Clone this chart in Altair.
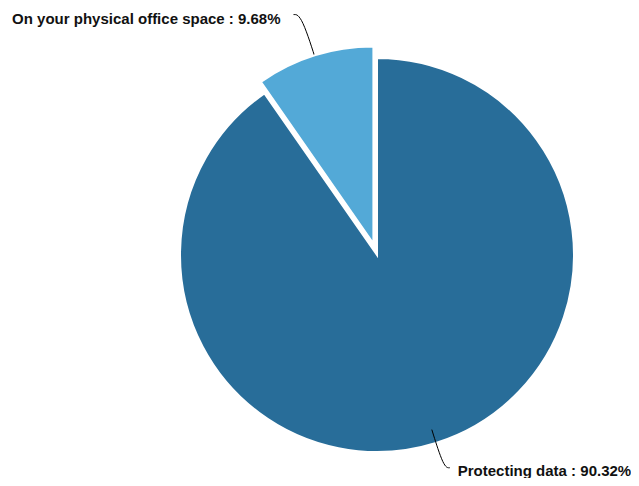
import json
import altair as alt
import pandas as pd

categories = ["Protecting data", "On your physical office space"]
values = [90.32, 9.68]
colors = ["#286d99", "#53a9d7"]
exploded = ["On your physical office space"]

df = pd.DataFrame({"category": categories, "value": values})

W, H = 623, 470
CX, CY = 369, 247
R = 197
EXPLODE = 12

base = (
    alt.Chart(df)
    .transform_window(cum="sum(value)", frame=[None, 0],
                      sort=[alt.SortField("value", order="descending")])
    .transform_joinaggregate(total="sum(value)")
    .transform_calculate(
        a0="2*PI*(datum.cum - datum.value)/datum.total",
        a1="2*PI*datum.cum/datum.total",
    )
    .transform_calculate(
        mid="(datum.a0 + datum.a1)/2",
        ex=f"indexof({json.dumps(exploded)}, datum.category) >= 0 ? {EXPLODE} : 0",
    )
    .transform_calculate(
        cx=f"{CX} + datum.ex*sin(datum.mid)",
        cy=f"{CY} - datum.ex*cos(datum.mid)",
        label="datum.category + ' : ' + format(datum.value/datum.total*100, '.2f') + '%'",
    )
)

color = alt.Color("category:N", scale=alt.Scale(domain=categories, range=colors), legend=None)


def arcs(cond):
    return base.transform_filter(cond).mark_arc(radius=R, stroke="white", strokeWidth=2).encode(
        theta=alt.Theta("a0:Q", scale=None),
        theta2="a1:Q",
        x=alt.X("cx:Q", scale=None),
        y=alt.Y("cy:Q", scale=None),
        color=color,
    )


pts = (
    base.transform_calculate(step="[0,1,2]")
    .transform_flatten(["step"])
    .transform_calculate(lr="cos(datum.mid) > 0 ? 240 : 223")
    .transform_calculate(r="datum.step == 0 ? 183 : datum.lr")
    .transform_calculate(
        px="datum.cx + datum.r*sin(datum.mid) + (datum.step == 2 ? (sin(datum.mid) < 0 ? -8 : 6) : 0)",
        py="datum.cy - datum.r*cos(datum.mid)",
    )
)

lines = pts.mark_line(color="#000000", strokeWidth=1, interpolate="basis").encode(
    x=alt.X("px:Q", scale=None),
    y=alt.Y("py:Q", scale=None),
    detail="category:N",
    order="step:Q",
)

text_kw = dict(font="Liberation Sans", fontSize=15, fontWeight="bold", color="#111111", baseline="middle")
left_text = pts.transform_filter("datum.step == 2 && sin(datum.mid) < 0").mark_text(
    align="right", dx=-13, dy=4, **text_kw
).encode(x=alt.X("px:Q", scale=None), y=alt.Y("py:Q", scale=None), text="label:N")
right_text = pts.transform_filter("datum.step == 2 && sin(datum.mid) >= 0").mark_text(
    align="left", dx=8, dy=3, **text_kw
).encode(x=alt.X("px:Q", scale=None), y=alt.Y("py:Q", scale=None), text="label:N")

chart = (
    alt.layer(arcs("datum.ex == 0"), lines, arcs("datum.ex > 0"), left_text, right_text)
    .properties(width=W, height=H, autosize="none", padding=0)
    .configure_view(stroke=None)
)

chart.save("out.html", embed_options={"renderer": "svg", "actions": False})
